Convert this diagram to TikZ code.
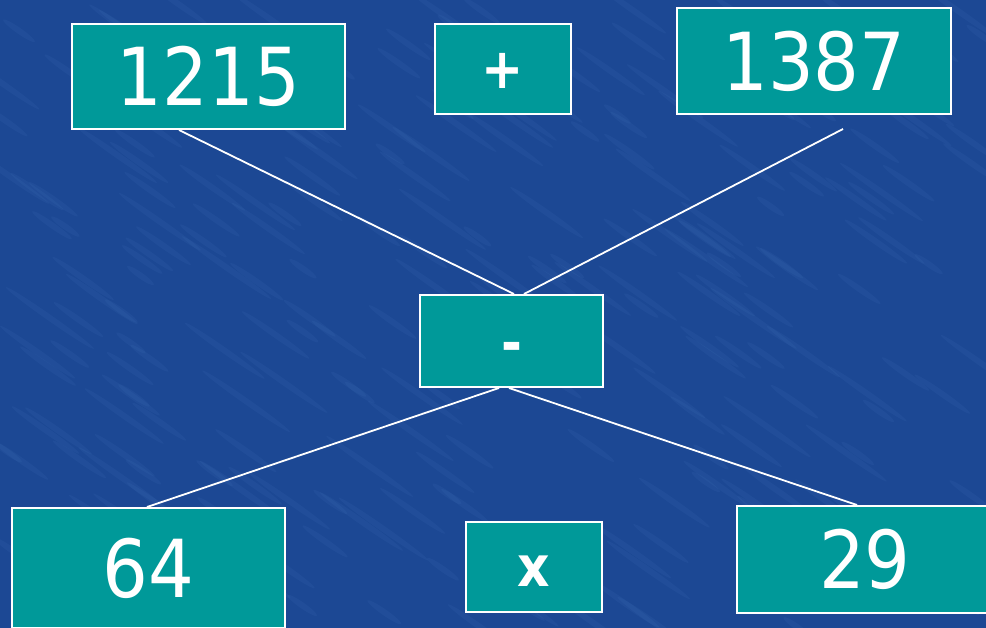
\documentclass[tikz,border=0pt]{standalone}
\usepackage{fontspec}
\newfontfamily\tah[FakeStretch=0.9]{DejaVu Sans}
\definecolor{bgblue}{RGB}{28,72,148}
\definecolor{bglight}{RGB}{70,120,190}
\definecolor{teal}{RGB}{0,153,153}
\begin{document}
\begin{tikzpicture}[x=1pt,y=-1pt,
  box/.style={draw=white, line width=2pt, fill=teal, inner sep=0pt, text=white},
  big/.style={font=\tah\fontsize{80}{80}\selectfont},
  small/.style={font=\tah\bfseries\fontsize{56}{56}\selectfont},
  link/.style={draw=white, line width=1.8pt}]
\useasboundingbox (0,0) rectangle (986,628);
\begin{scope}
\clip (0,0) rectangle (986,628);
\fill[bgblue] (0,0) rectangle (986,628);
\pgfmathsetseed{7}
\foreach \i in {1,...,260}{
  \pgfmathsetmacro{\px}{rnd*986}
  \pgfmathsetmacro{\py}{rnd*628}
  \pgfmathsetmacro{\len}{15+rnd*40}
  \fill[bglight, opacity=0.12] (\px,\py) ellipse [x radius=\len pt, y radius=3pt, rotate=-35];
}
\end{scope}
\node[box, big, minimum width=273pt, minimum height=105pt] (n1215) at (208.5,76.5) {1215};
\node[box, small, minimum width=136pt, minimum height=90pt] (plus) at (503,69) {\raisebox{-2pt}[\height][\depth]{+}};
\node[box, big, minimum width=274pt, minimum height=106pt] (n1387) at (814,61) {1387};
\node[box, small, minimum width=183pt, minimum height=92pt] (minus) at (511.5,341) {\raisebox{-11pt}[\height][\depth]{-}};
\node[box, small, minimum width=136pt, minimum height=90pt] (times) at (534,567) {\raisebox{-4pt}[\height][\depth]{x}};
\node[box, big, minimum width=273pt, minimum height=120pt] (n64) at (148.5,568) {64};
\node[box, big, minimum width=256pt, minimum height=107pt] (n29) at (865,559.5) {29};
\coordinate (f1387) at (843,129);
\draw[link] ([xshift=108pt]n1215.south west) -- ([xshift=95pt]minus.north west);
\draw[link] (f1387) -- ([xshift=105pt]minus.north west);
\draw[link] ([xshift=80pt]minus.south west) -- ([xshift=136pt]n64.north west);
\draw[link] ([xshift=90pt]minus.south west) -- ([xshift=121pt]n29.north west);
\end{tikzpicture}
\end{document}
